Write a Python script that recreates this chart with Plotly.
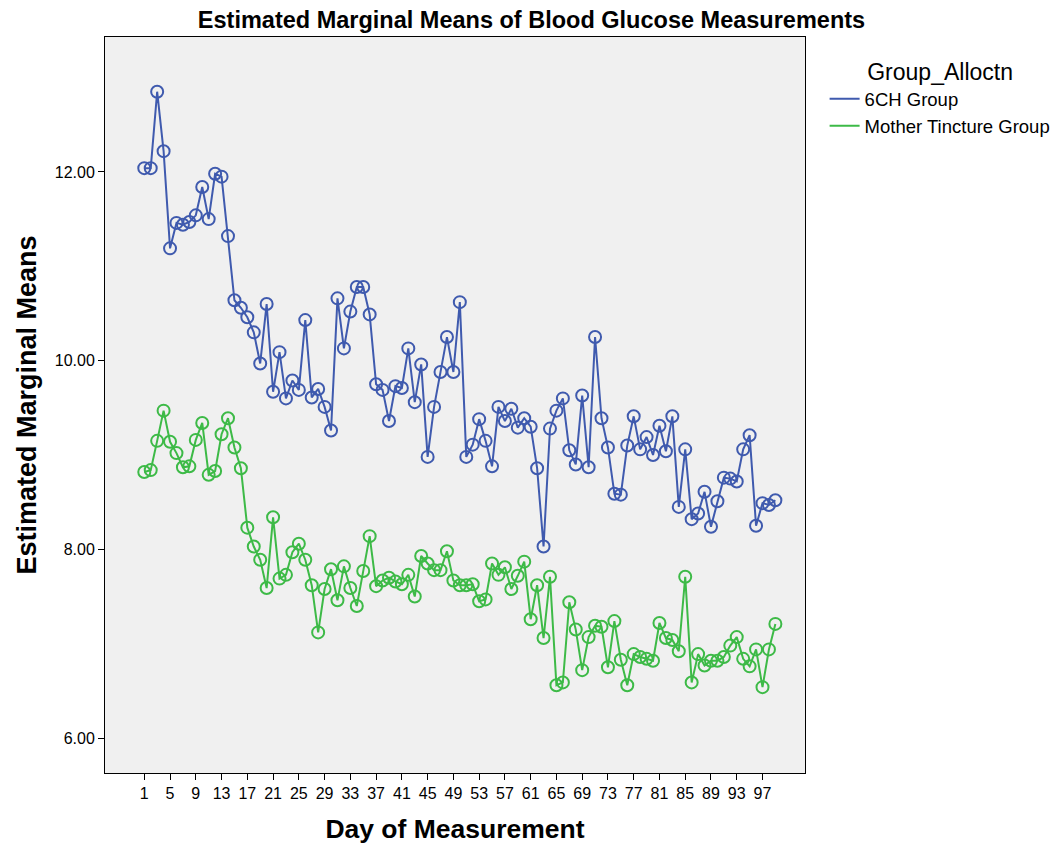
import plotly.graph_objects as go

days = list(range(1, 100))

ch6_group = [
    12.04, 12.04, 12.85, 12.22, 11.19, 11.46, 11.44, 11.47, 11.54, 11.84,
    11.50, 11.98, 11.95, 11.32, 10.64, 10.56, 10.46, 10.30, 9.97, 10.60,
    9.67, 10.09, 9.60, 9.79, 9.69, 10.43, 9.61, 9.70, 9.51, 9.26,
    10.66, 10.13, 10.52, 10.78, 10.78, 10.49, 9.75, 9.69, 9.36, 9.73,
    9.71, 10.13, 9.56, 9.96, 8.98, 9.51, 9.88, 10.25, 9.88, 10.62,
    8.98, 9.11, 9.38, 9.15, 8.88, 9.51, 9.36, 9.49, 9.29, 9.39,
    9.30, 8.86, 8.03, 9.28, 9.47, 9.60, 9.05, 8.90, 9.63, 8.87,
    10.25, 9.39, 9.08, 8.59, 8.58, 9.10, 9.41, 9.06, 9.19, 9.00,
    9.31, 9.04, 9.41, 8.45, 9.06, 8.32, 8.38, 8.61, 8.24, 8.51,
    8.76, 8.75, 8.72, 9.06, 9.21, 8.25, 8.49, 8.47, 8.52,
]

mother_tincture_group = [
    8.82, 8.84, 9.15, 9.47, 9.14, 9.02, 8.87, 8.88, 9.16, 9.34,
    8.79, 8.83, 9.22, 9.39, 9.08, 8.86, 8.23, 8.03, 7.89, 7.59,
    8.34, 7.69, 7.73, 7.97, 8.06, 7.89, 7.62, 7.12, 7.58, 7.79,
    7.46, 7.82, 7.59, 7.40, 7.77, 8.14, 7.61, 7.67, 7.70, 7.66,
    7.63, 7.73, 7.50, 7.93, 7.85, 7.78, 7.78, 7.98, 7.67, 7.62,
    7.62, 7.63, 7.45, 7.47, 7.85, 7.73, 7.81, 7.58, 7.72, 7.87,
    7.26, 7.62, 7.06, 7.71, 6.56, 6.59, 7.44, 7.15, 6.72, 7.07,
    7.19, 7.18, 6.75, 7.24, 6.83, 6.56, 6.89, 6.86, 6.84, 6.82,
    7.22, 7.06, 7.04, 6.92, 7.71, 6.59, 6.89, 6.77, 6.82, 6.82,
    6.86, 6.98, 7.07, 6.84, 6.76, 6.94, 6.54, 6.94, 7.21,
]

x_tick_days = list(range(1, 98, 4))
y_tick_vals = [6.0, 8.0, 10.0, 12.0]

font_family = "Liberation Sans, Arial, sans-serif"
blue = "#3F5AAE"
green = "#3DBA47"

series = [("6CH Group", ch6_group, blue), ("Mother Tincture Group", mother_tincture_group, green)]

fig = go.Figure()
for name, values, color in series:
    # data trace: line with open circle markers
    fig.add_trace(go.Scatter(
        x=days, y=values, name=name, mode="lines+markers",
        legendgroup=name, showlegend=False,
        line=dict(color=color, width=2),
        marker=dict(symbol="circle-open", size=12, color=color, line=dict(width=2)),
    ))
for name, values, color in series:
    # legend entry drawn as a plain line sample
    fig.add_trace(go.Scatter(
        x=[None], y=[None], name=name, mode="lines",
        legendgroup=name, showlegend=True,
        line=dict(color=color, width=2),
    ))

fig.update_layout(
    width=1063, height=852,
    margin=dict(l=105, r=258, t=37, b=79, autoexpand=False),
    paper_bgcolor="white",
    plot_bgcolor="#F0F0F0",
    font=dict(family=font_family, color="black"),
    title=dict(
        text="<b>Estimated Marginal Means of Blood Glucose Measurements</b>",
        x=0.5, xref="container", xanchor="center",
        y=1 - 20 / 852, yref="container", yanchor="middle",
        font=dict(size=23.5, color="black"),
    ),
    showlegend=True,
    legend=dict(
        x=1.028, y=0.982, xanchor="left", yanchor="top",
        title=dict(text="Group_Alloctn", font=dict(size=23), side="top center"),
        font=dict(size=18.5),
        bgcolor="rgba(0,0,0,0)",
        itemwidth=30,
        tracegroupgap=0,
    ),
)

fig.update_xaxes(
    range=[-5.1, 103.6],
    tickvals=x_tick_days,
    ticktext=[str(d) for d in x_tick_days],
    tickfont=dict(size=16),
    ticks="outside", ticklen=6, tickcolor="black",
    showgrid=False, zeroline=False,
    showline=True, linecolor="black", linewidth=1, mirror=True,
    title=dict(text="<b>Day of Measurement</b>", font=dict(size=26.5), standoff=18),
)
fig.update_yaxes(
    range=[5.63, 13.43],
    tickvals=y_tick_vals,
    ticktext=[f"{v:.2f}" for v in y_tick_vals],
    tickfont=dict(size=16),
    ticks="outside", ticklen=6, tickcolor="black",
    showgrid=False, zeroline=False,
    showline=True, linecolor="black", linewidth=1, mirror=True,
    title=dict(text="<b>Estimated Marginal Means</b>", font=dict(size=27), standoff=10),
)

fig.write_html("out.html")
